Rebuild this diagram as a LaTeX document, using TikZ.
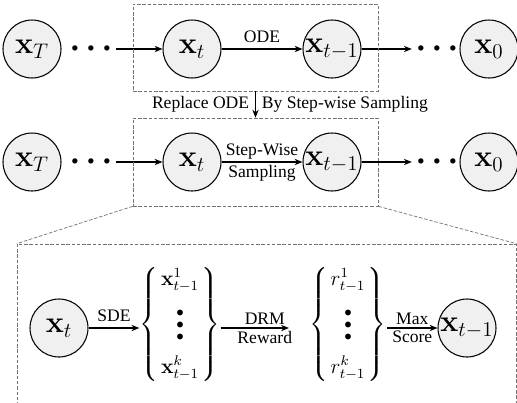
\documentclass[tikz,border=0pt]{standalone}
\usepackage[no-math]{fontspec}
\setmainfont{Liberation Serif}
\usepackage{amsmath,amssymb}
\usepackage{xcolor}
\usetikzlibrary{arrows.meta, positioning, calc}

% dots between the chain states
\newcommand{\rowdots}{$\scriptstyle\bullet\mkern11mu\bullet\mkern11mu\bullet$}
\newcommand{\coldots}{\vcenter{\baselineskip=6.8pt\lineskiplimit=0pt
  \hbox{$\scriptstyle\bullet$}\hbox{$\scriptstyle\bullet$}\hbox{$\scriptstyle\bullet$}}}
% a braced set of k candidates
\newcommand{\candset}[1]{\setlength{\arraycolsep}{1.5pt}%
  $\left\{\begin{array}{c}#1^1_{t-1}\\[10pt]\coldots\\[10pt]#1^k_{t-1}\end{array}\right\}$}

\tikzset{
  var/.style={circle, draw, semithick, fill=black!6, minimum size=1.16cm, inner sep=0pt, font=\LARGE},
  rowdots/.style={inner sep=3pt},
  cand/.style={inner sep=0pt, font=\large},
  tight/.style={inner sep=1.5pt},
  zoomline/.style={draw=black!55, dash pattern=on 2pt off 1pt, line width=0.4pt},
}

\begin{document}
\begin{tikzpicture}[>={Stealth[length=4.5pt,width=3.6pt]}, font=\normalsize]
  \clip (0,0) rectangle (10.34,8.04);

  % deterministic chain
  \node[var] (xT1) at (0.64,7.06) {$\mathbf{x}_T$};
  \node[rowdots] (dl1) at (1.82,7.06) {\rowdots};
  \node[var] (xt1) at (3.84,7.06) {$\mathbf{x}_t$};
  \node[var] (xs1) at (6.64,7.06) {$\mathbf{x}_{t-1}$};
  \node[rowdots] (dr1) at (8.74,7.06) {\rowdots};
  \node[var] (x01) at (9.78,7.06) {$\mathbf{x}_0$};
  \draw[->, semithick] (dl1) -- (xt1);
  \draw[->, semithick] (xt1) -- node[above] {ODE} (xs1);
  \draw[->, semithick] (xs1) -- (dr1);
  \node[zoomline, minimum width=4.9cm, minimum height=1.74cm] (odebox) at (5.11,7.09) {};

  % step-wise chain
  \node[var] (xT2) at (0.64,4.80) {$\mathbf{x}_T$};
  \node[rowdots] (dl2) at (1.82,4.80) {\rowdots};
  \node[var] (xt2) at (3.84,4.80) {$\mathbf{x}_t$};
  \node[var] (xs2) at (6.64,4.80) {$\mathbf{x}_{t-1}$};
  \node[rowdots] (dr2) at (8.74,4.80) {\rowdots};
  \node[var] (x02) at (9.78,4.80) {$\mathbf{x}_0$};
  \draw[->, semithick] (dl2) -- (xt2);
  \draw[->, semithick] (xt2) -- node[above, tight] {Step-Wise} node[below, tight] {Sampling} (xs2);
  \draw[->, semithick] (xs2) -- (dr2);
  \node[zoomline, minimum width=4.9cm, minimum height=1.76cm] (swbox) at (5.11,4.80) {};

  \draw[->, semithick] (odebox.south) -- (swbox.north)
    node[midway, left] {Replace ODE} node[midway, right] {By Step-wise Sampling};

  % zoomed-in step
  \node[zoomline, minimum width=9.98cm, minimum height=3.66cm] (bigbox) at (5.33,1.33) {};
  \draw[zoomline] (swbox.south west) -- (bigbox.north west);
  \draw[zoomline] (swbox.south east) -- (bigbox.north east);

  \node[var] (xt3) at (1.18,1.48) {$\mathbf{x}_t$};
  \node[cand] (samples) at (3.60,1.55) {\candset{\mathbf{x}}};
  \node[cand] (rewards) at (6.96,1.55) {\candset{r}};
  \node[var] (xs3) at (9.34,1.48) {$\mathbf{x}_{t-1}$};
  \draw[->, semithick] (xt3) -- node[above] {SDE} (xt3 -| samples.west);
  \draw[->, semithick, shorten >=0.4cm] (samples.east |- xt3) -- node[above, tight] {DRM} node[below, tight] {Reward} (rewards.west |- xt3);
  \draw[->, semithick] (rewards.east |- xs3) -- node[above, tight] {Max} node[below, tight] {Score} (xs3);
\end{tikzpicture}
\end{document}
